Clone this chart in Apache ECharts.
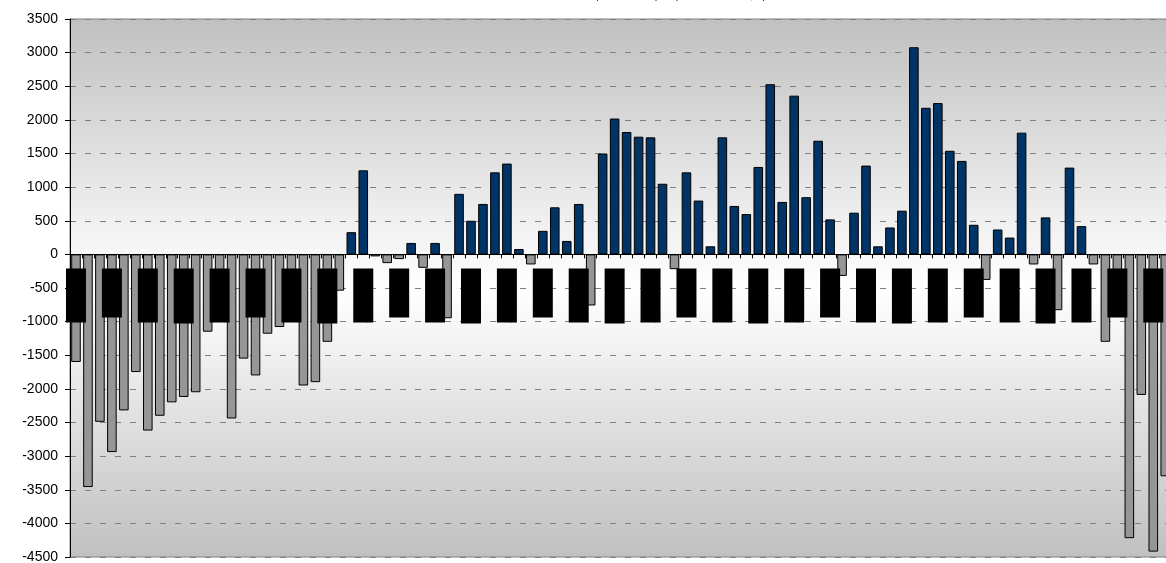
<!DOCTYPE html>
<html>
<head>
<meta charset="utf-8">
<script src="https://cdn.jsdelivr.net/npm/echarts@6/dist/echarts.min.js"></script>
<style>
  html, body { margin: 0; padding: 0; background: #fff; }
  #main { width: 1166px; height: 563px; }
</style>
</head>
<body>
<div id="main"></div>
<script type="text/javascript">
// monthly categories (every 3rd one is labelled)
var months = [
  'Apr-01','May-01','Jun-01','Jul-01','Aug-01','Sep-01','Oct-01','Nov-01','Dec-01',
  'Jan-02','Feb-02','Mar-02','Apr-02','May-02','Jun-02','Jul-02','Aug-02','Sep-02','Oct-02','Nov-02','Dec-02',
  'Jan-03','Feb-03','Mar-03','Apr-03','May-03','Jun-03','Jul-03','Aug-03','Sep-03','Oct-03','Nov-03','Dec-03',
  'Jan-04','Feb-04','Mar-04','Apr-04','May-04','Jun-04','Jul-04','Aug-04','Sep-04','Oct-04','Nov-04','Dec-04',
  'Jan-05','Feb-05','Mar-05','Apr-05','May-05','Jun-05','Jul-05','Aug-05','Sep-05','Oct-05','Nov-05','Dec-05',
  'Jan-06','Feb-06','Mar-06','Apr-06','May-06','Jun-06','Jul-06','Aug-06','Sep-06','Oct-06','Nov-06','Dec-06',
  'Jan-07','Feb-07','Mar-07','Apr-07','May-07','Jun-07','Jul-07','Aug-07','Sep-07','Oct-07','Nov-07','Dec-07',
  'Jan-08','Feb-08','Mar-08','Apr-08','May-08','Jun-08','Jul-08','Aug-08','Sep-08','Oct-08','Nov-08'
];

var values = [
  -1600, -3460, -2490, -2940, -2320, -1750, -2620, -2400, -2200, -2120,
  -2050, -1150,  -800, -2440, -1550, -1800, -1180, -1080,  -700, -1950,
  -1900, -1300,  -540,   330,  1250,   -30,  -130,   -70,   170,  -200,
    170,  -950,   900,   500,   750,  1220,  1350,    80,  -150,   350,
    700,   200,   750,  -760,  1500,  2020,  1820,  1750,  1740,  1050,
   -220,  1220,   800,   120,  1740,   720,   600,  1300,  2530,   780,
   2360,   850,  1690,   520,  -320,   620,  1320,   120,   400,   650,
   3080,  2180,  2250,  1540,  1390,   440,  -380,   370,   250,  1810,
   -150,   550,  -830,  1290,   420,  -150, -1300,  -700, -4220, -2090,
  -4420, -3300
];

var yTicks = [3500, 3000, 2500, 2000, 1500, 1000, 500, 0, -500, -1000, -1500, -2000, -2500, -3000, -3500, -4000, -4500];

var posColor = '#003366';
var negColor = '#969696';

// plot box
var gTop = 19, gHeight = 538, yMax = yTicks[0], yMin = yTicks[yTicks.length - 1];
// distance from the bottom of the plot up to the zero line
var zeroShift = gHeight * (0 - yMin) / (yMax - yMin);

var myChart = echarts.init(document.getElementById('main'));

var option = {
  animation: false,
  backgroundColor: '#fff',
  title: {
    text: '贸易差额(百万美元)：(月度同比变化)',
    left: 533,
    top: -19,
    textStyle: {
      fontFamily: 'Noto Sans CJK SC',
      fontSize: 14,
      fontWeight: 'normal',
      color: '#000'
    }
  },
  grid: {
    left: 70,
    top: gTop,
    width: 92 * 11.97,
    height: gHeight,
    outerBoundsMode: 'none',
    containLabel: false,
    show: true,
    borderColor: '#808080',
    borderWidth: 1,
    backgroundColor: {
      type: 'linear', x: 0, y: 0, x2: 0, y2: 1,
      colorStops: [
        { offset: 0, color: '#c0c0c0' },
        { offset: 0.5, color: '#ffffff' },
        { offset: 1, color: '#c0c0c0' }
      ]
    }
  },
  xAxis: {
    type: 'category',
    data: months,
    z: 10,
    offset: -zeroShift,
    axisLine: { onZero: false, lineStyle: { color: '#000', width: 1 } },
    axisTick: { show: true, interval: 0, length: 4, lineStyle: { color: '#000' } },
    axisLabel: {
      interval: 2,
      rotate: 90,
      margin: 14,
      fontFamily: 'Liberation Sans',
      fontSize: 18,
      lineHeight: 20,
      color: '#000',
      backgroundColor: '#000'
    },
    splitLine: { show: false }
  },
  yAxis: {
    type: 'value',
    min: yMin,
    max: yMax,
    interval: 500,
    axisLine: { show: true, lineStyle: { color: '#000', width: 1 } },
    axisTick: { show: true, inside: false, length: 5, lineStyle: { color: '#000' } },
    axisLabel: {
      margin: 12,
      fontFamily: 'Liberation Sans',
      fontSize: 14,
      color: '#000',
      formatter: function (v) { return String(v); }
    },
    splitLine: {
      show: true,
      lineStyle: { color: '#808080', type: [6, 9], width: 1 }
    }
  },
  series: [
    {
      type: 'bar',
      data: values,
      barWidth: '80%',
      itemStyle: {
        color: function (p) { return p.value < 0 ? negColor : posColor; },
        borderColor: '#000',
        borderWidth: 1
      }
    }
  ]
};

myChart.setOption(option);
</script>
</body>
</html>
